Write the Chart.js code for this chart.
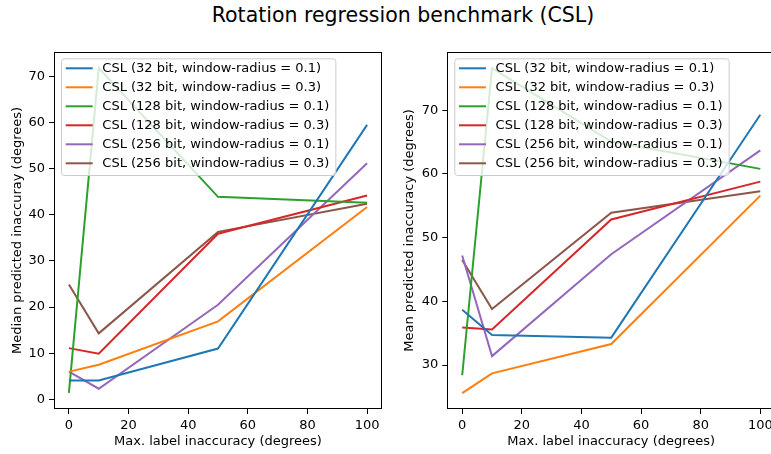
<!DOCTYPE html>
<html>
<head>
<meta charset="utf-8">
<script src="https://cdn.jsdelivr.net/npm/chart.js@4.4.1/dist/chart.umd.min.js"></script>
<style>
  html, body { margin: 0; padding: 0; background: #fff; overflow: hidden; }
  body { width: 771px; height: 454px; position: relative; font-family: "DejaVu Sans", sans-serif; }
  #title { position: absolute; left: 0; top: 3px; width: 806px; line-height: 24px; text-align: center; font-size: 20.5px; color: #000; }
  .box { position: absolute; top: 0; width: 390px; height: 454px; }
  #leftBox { left: 0; }
  #rightBox { left: 390px; }
</style>
</head>
<body>
<div id="title">Rotation regression benchmark (CSL)</div>
<div class="box" id="leftBox"><canvas id="medianChart"></canvas></div>
<div class="box" id="rightBox"><canvas id="meanChart"></canvas></div>
<script>
// data
const xValues = [0, 10, 50, 100];
const seriesLabels = [
  'CSL (32 bit, window-radius = 0.1)',
  'CSL (32 bit, window-radius = 0.3)',
  'CSL (128 bit, window-radius = 0.1)',
  'CSL (128 bit, window-radius = 0.3)',
  'CSL (256 bit, window-radius = 0.1)',
  'CSL (256 bit, window-radius = 0.3)'
];
const seriesColors = ['#1f77b4', '#ff7f0e', '#2ca02c', '#d62728', '#9467bd', '#8c564b'];

// median predicted inaccuracy
const median32r01  = [4.1, 4.1, 11.0, 59.5];
const median32r03  = [6.0, 7.5, 16.9, 41.7];
const median128r01 = [1.4, 71.8, 43.9, 42.6];
const median128r03 = [11.1, 9.9, 35.9, 44.2];
const median256r01 = [6.0, 2.3, 20.5, 51.2];
const median256r03 = [24.9, 14.3, 36.3, 42.4];

// mean predicted inaccuracy
const mean32r01  = [38.7, 34.7, 34.3, 69.3];
const mean32r03  = [25.6, 28.7, 33.3, 56.6];
const mean128r01 = [28.4, 76.6, 65.1, 60.8];
const mean128r03 = [35.9, 35.6, 52.85, 58.8];
const mean256r01 = [47.2, 31.4, 47.4, 63.7];
const mean256r03 = [46.5, 38.8, 53.9, 57.3];

const xTicks = [0, 20, 40, 60, 80, 100];
const medianTicks = [0, 10, 20, 30, 40, 50, 60, 70];
const meanTicks = [30, 40, 50, 60, 70];

const FONT = { family: 'DejaVu Sans', size: 13 };

// frame + matplotlib style legend inside the axes
const axesDecor = {
  id: 'axesDecor',
  afterDatasetsDraw(chart) {
    const { ctx, chartArea: a } = chart;
    ctx.save();
    ctx.strokeStyle = '#000';
    ctx.lineWidth = 1;
    ctx.strokeRect(Math.round(a.left) + 0.5, Math.round(a.top) + 0.5,
                   Math.round(a.right - a.left) - 1, Math.round(a.bottom - a.top) - 1);

    ctx.font = '13px "DejaVu Sans"';
    const dsets = chart.data.datasets;
    let maxW = 0;
    dsets.forEach(d => { maxW = Math.max(maxW, ctx.measureText(d.label).width); });
    const fx = a.left + 7, fy = a.top + 6.3;
    const fw = 41.3 + maxW + 6, fh = 116.7;
    ctx.beginPath();
    ctx.roundRect(fx + 0.5, fy + 0.5, fw, fh, 3);
    ctx.fillStyle = 'rgba(255,255,255,0.8)';
    ctx.fill();
    ctx.strokeStyle = '#cccccc';
    ctx.stroke();

    dsets.forEach((d, i) => {
      const cy = a.top + 16.3 + i * 19;
      ctx.beginPath();
      ctx.moveTo(fx + 4.7, cy);
      ctx.lineTo(fx + 31.7, cy);
      ctx.strokeStyle = d.borderColor;
      ctx.lineWidth = 2;
      ctx.stroke();
      ctx.fillStyle = '#000';
      ctx.textBaseline = 'middle';
      ctx.textAlign = 'left';
      ctx.fillText(d.label, fx + 41.3, cy + 0.5);
    });
    ctx.restore();
  }
};

function makeChart(id, series, yMin, yMax, yTicks, yTitle, yWidth, titlePad, padRight) {
  const datasets = series.map((vals, i) => ({
    label: seriesLabels[i],
    data: xValues.map((x, j) => ({ x: x, y: vals[j] })),
    borderColor: seriesColors[i],
    backgroundColor: seriesColors[i],
    borderWidth: 2,
    pointRadius: 0,
    tension: 0,
    fill: false
  }));

  return new Chart(document.getElementById(id), {
    type: 'line',
    data: { datasets },
    options: {
      responsive: true,
      maintainAspectRatio: false,
      animation: false,
      layout: { padding: { top: 52, right: padRight, left: 0, bottom: 0 } },
      plugins: { legend: { display: false }, tooltip: { enabled: false } },
      scales: {
        x: {
          type: 'linear', min: -5, max: 105,
          afterBuildTicks: s => { s.ticks = xTicks.map(v => ({ value: v })); },
          afterFit: s => { s.height = 45; s.paddingLeft = 0; s.paddingRight = 0; },
          ticks: { color: '#000', font: FONT, padding: 4, autoSkip: false, maxRotation: 0 },
          grid: { display: true, drawOnChartArea: false, drawTicks: true, tickLength: 5, tickColor: '#000', tickWidth: 1 },
          border: { display: false },
          title: { display: true, text: 'Max. label inaccuracy (degrees)', color: '#000', font: FONT, padding: { top: 0, bottom: 4.5 } }
        },
        y: {
          type: 'linear', min: yMin, max: yMax,
          afterBuildTicks: s => { s.ticks = yTicks.map(v => ({ value: v })); },
          afterFit: s => { s.width = yWidth; s.paddingTop = 0; s.paddingBottom = 0; },
          ticks: { color: '#000', font: FONT, padding: 4, autoSkip: false },
          grid: { display: true, drawOnChartArea: false, drawTicks: true, tickLength: 5, tickColor: '#000', tickWidth: 1 },
          border: { display: false },
          title: { display: true, text: yTitle, color: '#000', font: FONT, padding: { top: titlePad, bottom: 0 } }
        }
      }
    },
    plugins: [axesDecor]
  });
}

makeChart('medianChart',
  [median32r01, median32r03, median128r01, median128r03, median256r01, median256r03],
  -2.1, 75.3, medianTicks, 'Median predicted inaccuray (degrees)', 54, 9.5, 8);

makeChart('meanChart',
  [mean32r01, mean32r03, mean128r01, mean128r03, mean256r01, mean256r03],
  23.1, 79.15, meanTicks, 'Mean predicted inaccuracy (degrees)', 57.3, 12.2, 4.8);
</script>
</body>
</html>
